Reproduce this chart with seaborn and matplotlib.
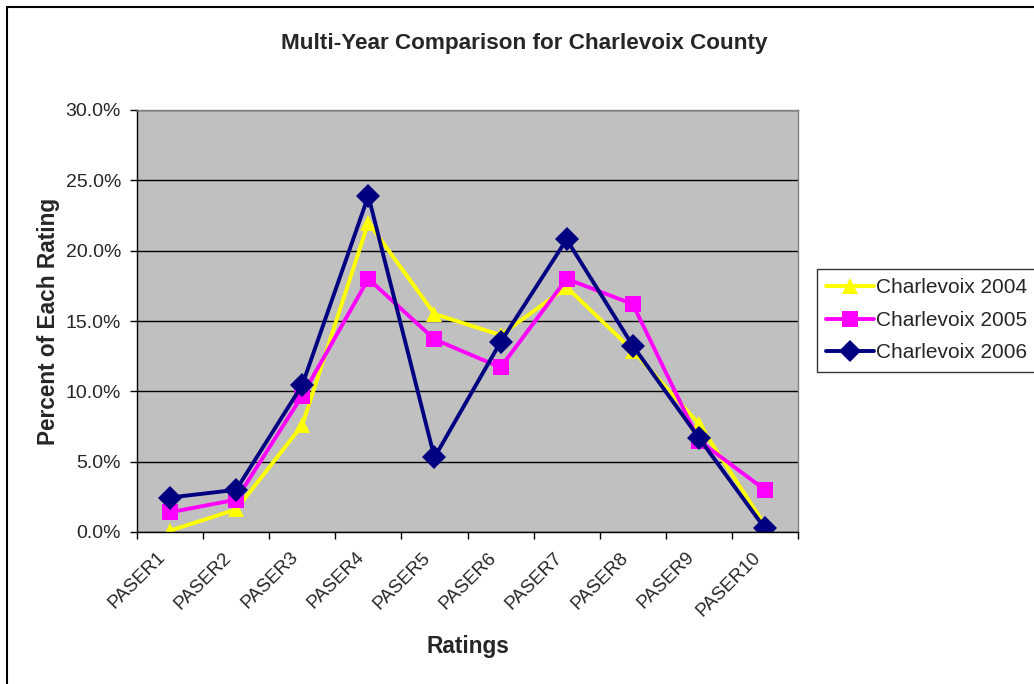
import matplotlib
matplotlib.use("Agg")
import matplotlib.pyplot as plt
import seaborn as sns
import pandas as pd
from matplotlib.patches import Rectangle
from matplotlib.ticker import PercentFormatter, FixedLocator
from matplotlib.transforms import ScaledTranslation

categories = ["PASER1", "PASER2", "PASER3", "PASER4", "PASER5",
              "PASER6", "PASER7", "PASER8", "PASER9", "PASER10"]
series_names = ["Charlevoix 2004", "Charlevoix 2005", "Charlevoix 2006"]
vals_2004 = [0.1, 1.6, 7.6, 22.0, 15.5, 14.0, 17.4, 12.9, 7.7, 0.5]
vals_2005 = [1.4, 2.3, 9.7, 18.0, 13.7, 11.7, 18.0, 16.2, 6.5, 3.0]
vals_2006 = [2.45, 3.0, 10.45, 23.9, 5.3, 13.5, 20.8, 13.25, 6.7, 0.25]
y_ticks = [0, 5, 10, 15, 20, 25, 30]

colors = ["#FFFF00", "#FF00FF", "#000080"]
markers = ["^", "s", "D"]

rows = []
for name, vals in zip(series_names, [vals_2004, vals_2005, vals_2006]):
    for i, (c, v) in enumerate(zip(categories, vals)):
        rows.append({"pos": i, "Rating": c, "Percent": v, "Series": name})
df = pd.DataFrame(rows)

sns.set_theme(style="white")
plt.rcParams["font.family"] = ["Liberation Sans", "DejaVu Sans"]

fig = plt.figure(figsize=(10.34, 6.84), dpi=100)
ax = fig.add_axes([137 / 1034, 1 - 532 / 684, (798 - 137) / 1034, (532 - 110) / 684])
ax.set_facecolor("#C0C0C0")

sns.lineplot(data=df, x="pos", y="Percent", hue="Series", style="Series",
             hue_order=series_names, style_order=series_names,
             palette=colors, markers=markers, dashes=False,
             linewidth=2.8, markersize=12, markeredgewidth=0,
             ax=ax, legend=True, sort=False)

ax.set_xlim(-0.5, len(categories) - 0.5)
ax.set_ylim(0, 30)
ax.yaxis.set_major_locator(FixedLocator(y_ticks))
ax.yaxis.set_major_formatter(PercentFormatter(decimals=1))
ax.yaxis.grid(True, color="black", linewidth=1.0)
ax.xaxis.grid(False)

ax.set_xticks(range(len(categories)))
ax.set_xticklabels(categories, rotation=45, ha="right", va="center",
                   rotation_mode="anchor", fontsize=13.5)
ax.tick_params(axis="x", which="major", length=0, pad=16.5)
shift = ScaledTranslation(-7 / 100, 0, fig.dpi_scale_trans)
for lab in ax.get_xticklabels():
    lab.set_transform(lab.get_transform() + shift)
ax.set_xticks([i - 0.5 for i in range(len(categories) + 1)], minor=True)
ax.tick_params(axis="x", which="minor", length=5, width=1, color="black", direction="out", bottom=True)
ax.tick_params(axis="y", which="major", length=5, width=1, color="black", direction="out",
               left=True, labelsize=14, pad=6.5)

for side in ["left", "bottom"]:
    ax.spines[side].set_color("black")
    ax.spines[side].set_linewidth(1.0)
for side in ["top", "right"]:
    ax.spines[side].set_color("#808080")
    ax.spines[side].set_linewidth(1.0)

ax.set_xlabel("Ratings", fontsize=16.3, fontweight="bold", labelpad=11)
ax.set_ylabel("Percent of Each Rating", fontsize=16.3, fontweight="bold", labelpad=4)

fig.text(524 / 1034, 1 - 43 / 684, "Multi-Year Comparison for Charlevoix County",
         ha="center", va="center", fontsize=16.2, fontweight="bold")

leg = ax.legend(loc="upper left", bbox_to_anchor=(817 / 1034, 1 - 269 / 684),
                bbox_transform=fig.transFigure, frameon=True, fancybox=False,
                fontsize=15, handlelength=2.3, handletextpad=0.1,
                borderpad=0.45, labelspacing=0.65, borderaxespad=0)
leg.get_frame().set_edgecolor("black")
leg.get_frame().set_linewidth(1.0)
for h in leg.legend_handles:
    h.set_markersize(11)
    h.set_linewidth(2.8)

fig.patches.append(Rectangle((7 / 1034, -0.01), 1.02, 1 - 7 / 684 + 0.01,
                             transform=fig.transFigure, fill=False,
                             edgecolor="black", linewidth=1.5))

fig.savefig("out.png", dpi=100)
